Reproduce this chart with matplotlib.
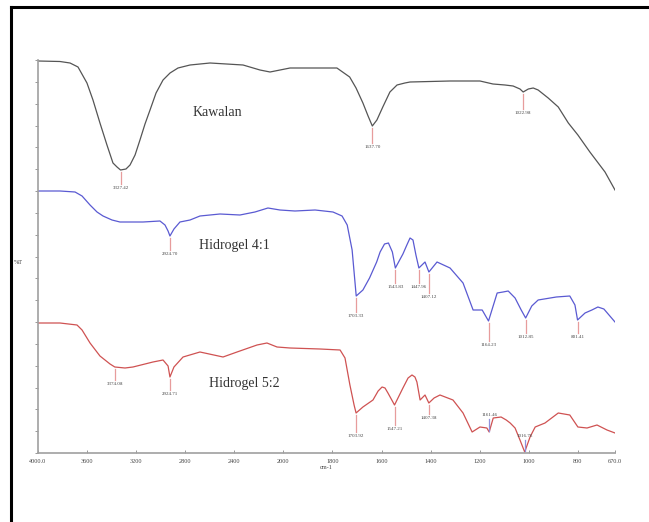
import matplotlib.pyplot as plt
import numpy as np
from matplotlib.lines import Line2D
from matplotlib.ticker import FixedLocator, MultipleLocator

plt.rcParams['font.family'] = ['Liberation Serif', 'DejaVu Serif']

# FTIR traces (wavenumber cm-1, stacked transmittance units)
kawalan_x = [4000, 3821, 3739, 3674, 3601, 3552, 3495, 3438, 3389, 3356, 3327.42, 3283, 3250,
             3209, 3169, 3128, 3087, 3038, 2981, 2924, 2859, 2761, 2598, 2329, 2191, 2109,
             1973, 1782, 1730, 1704, 1676, 1655, 1637.70, 1619, 1595, 1566, 1537, 1505, 1484,
             1321, 1199, 1146, 1097, 1064, 1036, 1022.98, 1002, 982, 962, 921, 880, 839, 800,
             758, 705, 670]
kawalan_y = [392, 391.5, 390, 386, 370, 353, 330, 308, 290, 286, 283, 284, 288,
             298, 313, 329, 343, 360, 373, 380, 385, 388, 390, 388, 383, 381,
             385, 385, 376, 365, 350, 337, 327, 333, 346, 361, 368, 370, 371,
             372, 372, 369, 368, 367, 364, 361, 364, 365, 363, 355, 346, 330, 318,
             301, 281, 263]

h41_x = [4000, 3821, 3698, 3641, 3576, 3519, 3470, 3397, 3332, 3144, 3006, 2965, 2940,
         2924.70, 2892, 2843, 2761, 2680, 2517, 2354, 2232, 2126, 2028, 1953, 1871, 1798,
         1761, 1740, 1720, 1703.33, 1676, 1649, 1620, 1606, 1588, 1572, 1556, 1543.83, 1513,
         1497, 1484, 1472, 1460, 1447.96, 1423, 1407.12, 1374, 1321, 1268, 1227, 1190,
         1164.23, 1129, 1105, 1084, 1056, 1031, 1012.85, 988, 962, 888, 833, 812, 801.41,
         775, 751, 730, 709, 688, 670]
h41_y = [262, 262, 261, 257, 248, 241, 237, 233, 231, 231, 232, 228, 222,
         217, 224, 231, 233, 237, 239, 238, 241, 245, 243, 242, 243, 241,
         237, 228, 203, 157, 163, 175, 191, 201, 209, 210, 201, 185, 199,
         208, 215, 213, 198, 185, 191, 181, 191, 185, 170, 143, 143,
         132, 160, 161, 162, 155, 143, 135, 147, 153, 156, 157, 148, 133,
         140, 143, 146, 144, 137, 131]

h52_x = [4000, 3821, 3682, 3641, 3576, 3495, 3413, 3374.08, 3291, 3226, 3063, 2981, 2940,
         2924.71, 2892, 2818, 2680, 2492, 2378, 2215, 2134, 2052, 1973, 1851, 1769, 1749,
         1729, 1712, 1703.92, 1676, 1635, 1614, 1598, 1586, 1574, 1547.21, 1513, 1492, 1476,
         1464, 1456, 1443, 1423, 1407.38, 1386, 1362, 1309, 1268, 1231, 1199, 1171, 1161.46,
         1145, 1113, 1092, 1076, 1056, 1036, 1016.76, 995, 974, 934, 880, 833, 800, 768,
         733, 698, 670]
h52_y = [130, 130, 128, 123, 110, 97, 89, 86, 85, 86, 91, 93, 87,
         76, 86, 96, 101, 96, 101, 108, 110, 106, 105, 104, 103, 95,
         68, 48, 40, 46, 53, 62, 66, 65, 60, 48, 65, 75, 78,
         76, 71, 53, 58, 50, 55, 58, 53, 40, 21, 26, 25, 21,
         35, 36, 33, 30, 25, 13, 1, 16, 26, 30, 40, 38, 26, 25,
         28, 23, 20]

# labelled band positions per trace
kawalan_peaks = [3327.42, 1637.70, 1022.98]
h41_peaks = [2924.70, 1703.33, 1543.83, 1447.96, 1407.12, 1164.23, 1012.85, 801.41]
h52_peaks = [3374.08, 2924.71, 1703.92, 1547.21, 1407.38, 1161.46, 1016.76]

tick_labels = ['4000.0', '3600', '3200', '2800', '2400', '2000', '1800', '1600',
               '1400', '1200', '1000', '800', '670.0']
tick_values = [4000, 3600, 3200, 2800, 2400, 2000, 1800, 1600, 1400, 1200, 1000, 800, 670]

# stick length under each band label (negative = label above the trace)
kawalan_len = [12, 15, 15]
h41_len = [12, 14, 13, 13, 19, 18, 13, 11]
h52_len = [11, 11, 17, 18, 9, -12, -11]

# axis is compressed by 2 above 2000 cm-1, as on the instrument printout
wn_pts = [-20000, 670, 800, 2000, 4000, 40000]
pos_pts = [-20670 / 172.0, 0, 0.756, 6.756, 11.756, 11.756 + 36000 / 400.0]


def fwd(x):
    return np.interp(x, wn_pts, pos_pts)


def inv(p):
    return np.interp(p, pos_pts, wn_pts)


fig = plt.figure(figsize=(6.49, 5.22), dpi=100)
ax = fig.add_axes([38 / 649, 1 - 453 / 522, 577 / 649, 393 / 522])
ax.set_xscale('function', functions=(fwd, inv))
ax.set_xlim(4000, 670)
ax.set_ylim(0, 393)

series = [
    (kawalan_x, kawalan_y, kawalan_peaks, kawalan_len, '#555555'),
    (h41_x, h41_y, h41_peaks, h41_len, '#5a5ad2'),
    (h52_x, h52_y, h52_peaks, h52_len, '#cf5252'),
]
for xs, ys, peaks, lens, col in series:
    ax.plot(xs, ys, color=col, lw=0.9, solid_joinstyle='round')
    for wn, ln in zip(peaks, lens):
        y0 = ys[xs.index(wn)]
        stick = '#e79c9c' if ln > 0 else '#9090dd'
        if ln > 0:
            ax.plot([wn, wn], [y0 - 2, y0 - 2 - ln], color=stick, lw=0.9)
            ax.text(wn, y0 - 4 - ln, f'{wn:.2f}', fontsize=3.6, color='#444444',
                    ha='center', va='top')
        else:
            ax.plot([wn, wn], [y0 + 1, y0 + 1 - ln], color=stick, lw=0.9)
            ax.text(wn, y0 + 3 - ln, f'{wn:.2f}', fontsize=3.6, color='#444444',
                    ha='center', va='bottom')

ax.text(2540, 340, 'Kawalan', fontsize=10, color='#333333', ha='center', va='center')
ax.text(2400, 208, 'Hidrogel 4:1', fontsize=10, color='#333333', ha='center', va='center')
ax.text(2320, 70, 'Hidrogel 5:2', fontsize=10, color='#333333', ha='center', va='center')

for side in ['top', 'right']:
    ax.spines[side].set_visible(False)
for side in ['left', 'bottom']:
    ax.spines[side].set_color('#a0a0a0')
    ax.spines[side].set_linewidth(1.2)

ax.xaxis.set_major_locator(FixedLocator(tick_values))
ax.set_xticklabels(tick_labels)
ax.xaxis.set_minor_locator(FixedLocator([]))
ax.yaxis.set_major_locator(MultipleLocator(393 / 18))
ax.tick_params(axis='x', direction='in', length=2.5, width=0.6, color='#888888',
               labelsize=4.5, labelcolor='#444444', pad=4)
ax.tick_params(axis='y', direction='out', length=2, width=0.6, color='#888888',
               labelleft=False)
ax.set_xlabel('cm-1', fontsize=4.5, color='#444444', labelpad=1)
fig.text(14 / 649, 1 - 262 / 522, '%T', fontsize=4.5, color='#444444', va='center')

# page border
fig.add_artist(Line2D([11 / 649, 1], [1 - 7 / 522, 1 - 7 / 522], color='black', lw=2.2,
                      transform=fig.transFigure))
fig.add_artist(Line2D([11 / 649, 11 / 649], [0, 1 - 7 / 522], color='black', lw=2.2,
                      transform=fig.transFigure))

fig.savefig('out.png', dpi=100, facecolor='white')
